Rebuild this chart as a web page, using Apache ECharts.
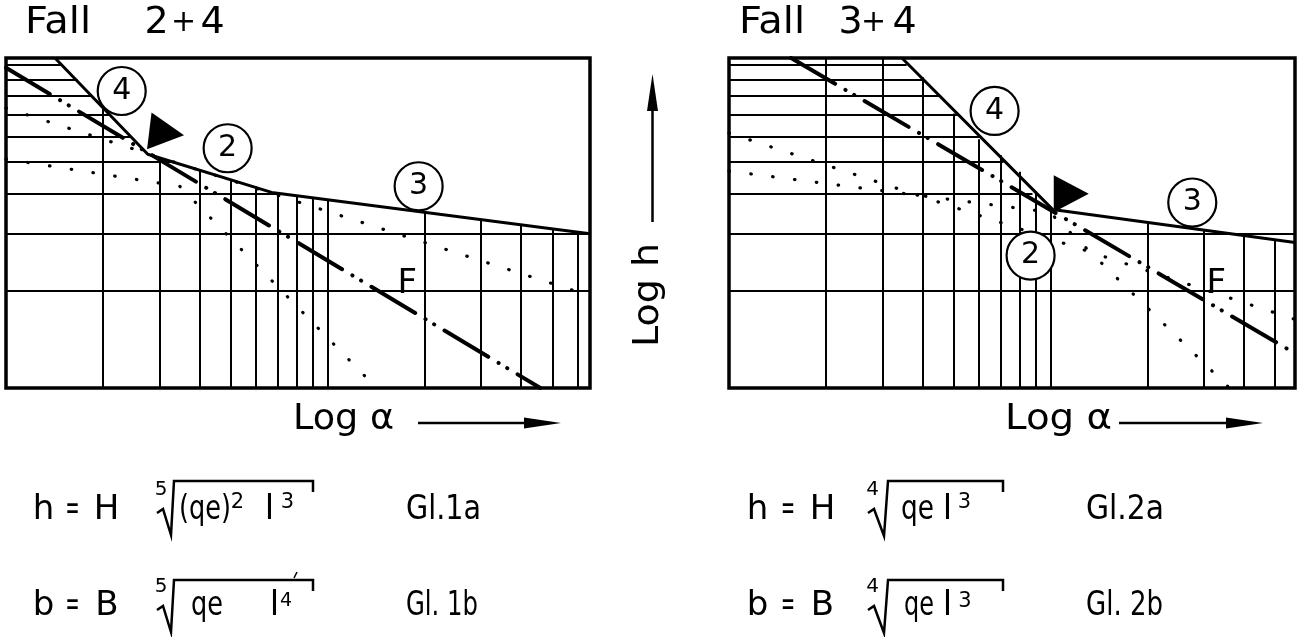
<!DOCTYPE html>
<html>
<head>
<meta charset="utf-8">
<title>Fall 2+4 / Fall 3+4</title>
<script src="https://cdn.jsdelivr.net/npm/echarts@6/dist/echarts.min.js"></script>
<style>
  html, body { margin: 0; background: #fff; }
  #main { width: 1298px; height: 637px; }
</style>
</head>
<body>
<div id="main"></div>
<script>
// both panels are log-log: alpha along x, h along y
var alphaTicksL = [2, 3, 4, 5, 6, 7, 8, 9, 10, 20, 30, 40, 50, 60];
var alphaTicksR = [2, 3, 4, 5, 6, 7, 8, 9, 10, 20, 30, 40, 50];
var hTicks = [10, 9, 8, 7, 6, 5, 4, 3, 2];

// where the grid lines stop at the upper boundary
var vTopL = [7.30, 5.11, 4.69, 4.43, 4.21, 4.02, 3.95, 3.89, 3.84, 3.50, 3.32, 3.19, 3.10, 3.03];
var vTopR = [10.5, 10.5, 9.15, 7.07, 5.89, 5.25, 4.67, 4.06, 3.62, 3.26, 3.08, 2.96, 2.88];
var hEndL = [1.49, 1.67, 1.85, 2.11, 2.44, 3.32, 7.0, 65.5, 65.5];
var hEndR = [3.57, 4.06, 4.55, 5.18, 6.02, 7.14, 8.79, 57.6, 57.6];

// boundary 4 -> 2 -> 3 (left) and 4 -> 3 (right)
var boundL = [[1.42, 10.5], [2.76, 5.29], [6.7, 4.03], [65.5, 3.0]];
var boundR = [[3.45, 10.5], [10.15, 3.57], [57.6, 2.82]];
// line F (dash-dot)
var lineFL = [[1, 9.79], [45.9, 1]];
var lineFR = [[1.56, 10.5], [57.6, 1.28]];
// dotted lines
var dotsAL = [[1, 7.35], [65.5, 1.93]];
var dotsBL = [[1, 5.11], [3.47, 4.21], [14.2, 1]];
var dotsAR = [[1, 6.15], [57.6, 1.63]];
var dotsBR = [[1, 4.69], [9.93, 3.50], [36.0, 1]];
// black flag and circled numbers
var pointL = [3.16, 6.15];
var pointR = [11.6, 3.99];
var tagsL = [['4', 2.29, 8.30], ['2', 4.89, 5.52], ['3', 19.2, 4.21]];
var tagsR = [['4', 6.70, 7.20], ['3', 27.6, 3.75], ['2', 8.67, 2.57]];
var fLabelL = [17.7, 2.09];
var fLabelR = [32.8, 2.09];

var FONT = '"DejaVu Sans", sans-serif';
var myChart = echarts.init(document.getElementById('main'), null, { renderer: 'canvas' });

var ctx = document.createElement('canvas').getContext('2d');
function fit(s, size, w) {
    ctx.font = size + 'px ' + FONT;
    return w / ctx.measureText(s).width;
}
function word(cx, cy, s, size, w, rot) {
    var el = {
        type: 'text', x: cx, y: cy, silent: true,
        style: { text: s, font: size + 'px ' + FONT, fill: '#000', textAlign: 'center', textVerticalAlign: 'middle' }
    };
    if (w) el.scaleX = fit(s, size, w);
    if (rot) el.rotation = rot;
    return el;
}
function stroke(points, w) {
    return { type: 'polyline', silent: true, shape: { points: points }, style: { stroke: '#000', lineWidth: w || 2.5, fill: null } };
}
function head(points) {
    return { type: 'polygon', silent: true, shape: { points: points }, style: { fill: '#000' } };
}

function gridLines(ticks, tops, ends, idx) {
    var segs = [];
    ticks.forEach(function (a, i) { segs.push({ coords: [[a, tops[i]], [a, 1]] }); });
    hTicks.forEach(function (h, i) { segs.push({ coords: [[1, h], [ends[i], h]] }); });
    return {
        type: 'lines', coordinateSystem: 'cartesian2d', xAxisIndex: idx, yAxisIndex: idx,
        data: segs, silent: true, z: 1,
        lineStyle: { color: '#000', width: 2, opacity: 1 }
    };
}
function path(data, idx, style, z) {
    return { type: 'line', xAxisIndex: idx, yAxisIndex: idx, data: data, symbol: 'none', silent: true, z: z, lineStyle: style };
}
function tags(list, idx) {
    return {
        type: 'scatter', xAxisIndex: idx, yAxisIndex: idx, z: 5, silent: true,
        symbol: 'circle', symbolSize: 48,
        itemStyle: { color: '#fff', borderColor: '#000', borderWidth: 2.2, opacity: 1 },
        label: { show: true, position: 'inside', formatter: '{b}', fontSize: 30, color: '#000', fontFamily: FONT },
        data: list.map(function (t) { return { name: t[0], value: [t[1], t[2]] }; })
    };
}
function flag(p, idx, rot) {
    return {
        type: 'scatter', xAxisIndex: idx, yAxisIndex: idx, z: 6, silent: true,
        symbol: 'triangle', symbolSize: [37, 35], symbolRotate: rot,
        itemStyle: { color: '#000', opacity: 1 }, data: [p]
    };
}
function fText(p, idx) {
    return {
        type: 'scatter', xAxisIndex: idx, yAxisIndex: idx, z: 5, silent: true,
        symbolSize: 1, itemStyle: { color: '#fff', opacity: 1 },
        label: { show: true, position: 'inside', formatter: 'F', fontSize: 34, color: '#000', fontFamily: FONT },
        data: [p]
    };
}

var solid = { color: '#000', width: 3, type: 'solid' };
var dashDot = { color: '#000', width: 4, type: [51, 12, 0.1, 10, 0.1, 12], cap: 'round' };
var dotted = { color: '#000', width: 3.2, type: [0.5, 21.5], cap: 'round' };

function axisOff(idx, max) {
    return {
        type: 'log', logBase: 10, gridIndex: idx, min: 1, max: max,
        axisLine: { show: false }, axisTick: { show: false },
        axisLabel: { show: false }, splitLine: { show: false }
    };
}

var graphics = [
    // titles
    word(58, 23.5, 'Fall', 38, 66), word(156.5, 23.5, '2', 38), word(183.5, 23.5, '+', 30), word(212.5, 23.5, '4', 38),
    word(772, 23.5, 'Fall', 38, 66), word(850.5, 23.5, '3', 38), word(873.5, 23.5, '+', 30), word(904.5, 23.5, '4', 38),
    // axis names
    word(343.5, 419.5, 'Log α', 35, 101), stroke([[418, 423], [530, 423]], 2.5), head([[524, 417.5], [561, 423], [524, 428.5]]),
    word(1058.5, 419.5, 'Log α', 35, 107), stroke([[1119, 423], [1230, 423]], 2.5), head([[1226, 417.5], [1263, 423], [1226, 428.5]]),
    word(649, 295, 'Log h', 35, 104, Math.PI / 2), stroke([[652.5, 222], [652.5, 105]], 2.5), head([[647, 111], [652.5, 74], [658, 111]]),

    // Gl. 1a
    word(43.5, 510, 'h', 34), word(72.5, 510, '=', 34, 14), word(106.5, 510, 'H', 34),
    word(161, 490, '5', 20),
    stroke([[157, 513], [163, 509], [171, 535], [174, 481], [313, 481], [313, 492]]),
    word(205, 510, '(qe)', 34, 52), word(237.5, 503, '2', 21),
    word(269.5, 510, 'l', 34), word(287.5, 502.5, '3', 21),
    word(443.5, 510, 'Gl.1a', 34, 75),
    // Gl. 1b
    word(43.5, 606.5, 'b', 34), word(72.5, 606.5, '=', 34, 14), word(107, 606.5, 'B', 34),
    word(161, 586.5, '5', 20),
    stroke([[157, 610], [163, 606], [171, 632], [174, 580], [313, 580], [313, 591]]),
    word(207, 606.5, 'qe', 34, 32),
    word(274.5, 606.5, 'l', 34), word(286, 601, '4', 19),
    stroke([[294, 578], [297, 572]], 1.5),
    word(442, 606.5, 'Gl. 1b', 34, 72),
    // Gl. 2a
    word(757.5, 510, 'h', 34), word(788, 510, '=', 34, 14), word(822.5, 510, 'H', 34),
    word(872.5, 490, '4', 20),
    stroke([[868, 513], [874, 509], [884, 536], [888, 481], [1003, 481], [1003, 492]]),
    word(917.5, 510, 'qe', 34, 33),
    word(947.5, 510, 'l', 34), word(964.5, 502.5, '3', 21),
    word(1125, 510, 'Gl.2a', 34, 78),
    // Gl. 2b
    word(757.5, 606.5, 'b', 34), word(788, 606.5, '=', 34, 14), word(822.5, 606.5, 'B', 34),
    word(872.5, 586.5, '4', 20),
    stroke([[868, 610], [874, 606], [884, 633], [888, 580], [1003, 580], [1003, 591]]),
    word(919, 606.5, 'qe', 34, 30),
    word(947.5, 606.5, 'l', 34), word(965, 601.5, '3', 21),
    word(1124.5, 606.5, 'Gl. 2b', 34, 77)
];

var option = {
    animation: false,
    backgroundColor: '#fff',
    grid: [
        { left: 6, top: 58, width: 584, height: 330, show: true, borderColor: '#000', borderWidth: 3.5 },
        { left: 729, top: 58, width: 566, height: 330, show: true, borderColor: '#000', borderWidth: 3.5 }
    ],
    xAxis: [axisOff(0, 65.5), axisOff(1, 57.6)],
    yAxis: [axisOff(0, 10.5), axisOff(1, 10.5)],
    graphic: graphics,
    series: [
        gridLines(alphaTicksL, vTopL, hEndL, 0),
        path(boundL, 0, solid, 3),
        path(lineFL, 0, dashDot, 3),
        path(dotsAL, 0, dotted, 2),
        path(dotsBL, 0, dotted, 2),
        tags(tagsL, 0),
        fText(fLabelL, 0),
        flag(pointL, 0, -97),

        gridLines(alphaTicksR, vTopR, hEndR, 1),
        path(boundR, 1, solid, 3),
        path(lineFR, 1, dashDot, 3),
        path(dotsAR, 1, dotted, 2),
        path(dotsBR, 1, dotted, 2),
        tags(tagsR, 1),
        fText(fLabelR, 1),
        flag(pointR, 1, -90)
    ]
};
myChart.setOption(option);
</script>
</body>
</html>
